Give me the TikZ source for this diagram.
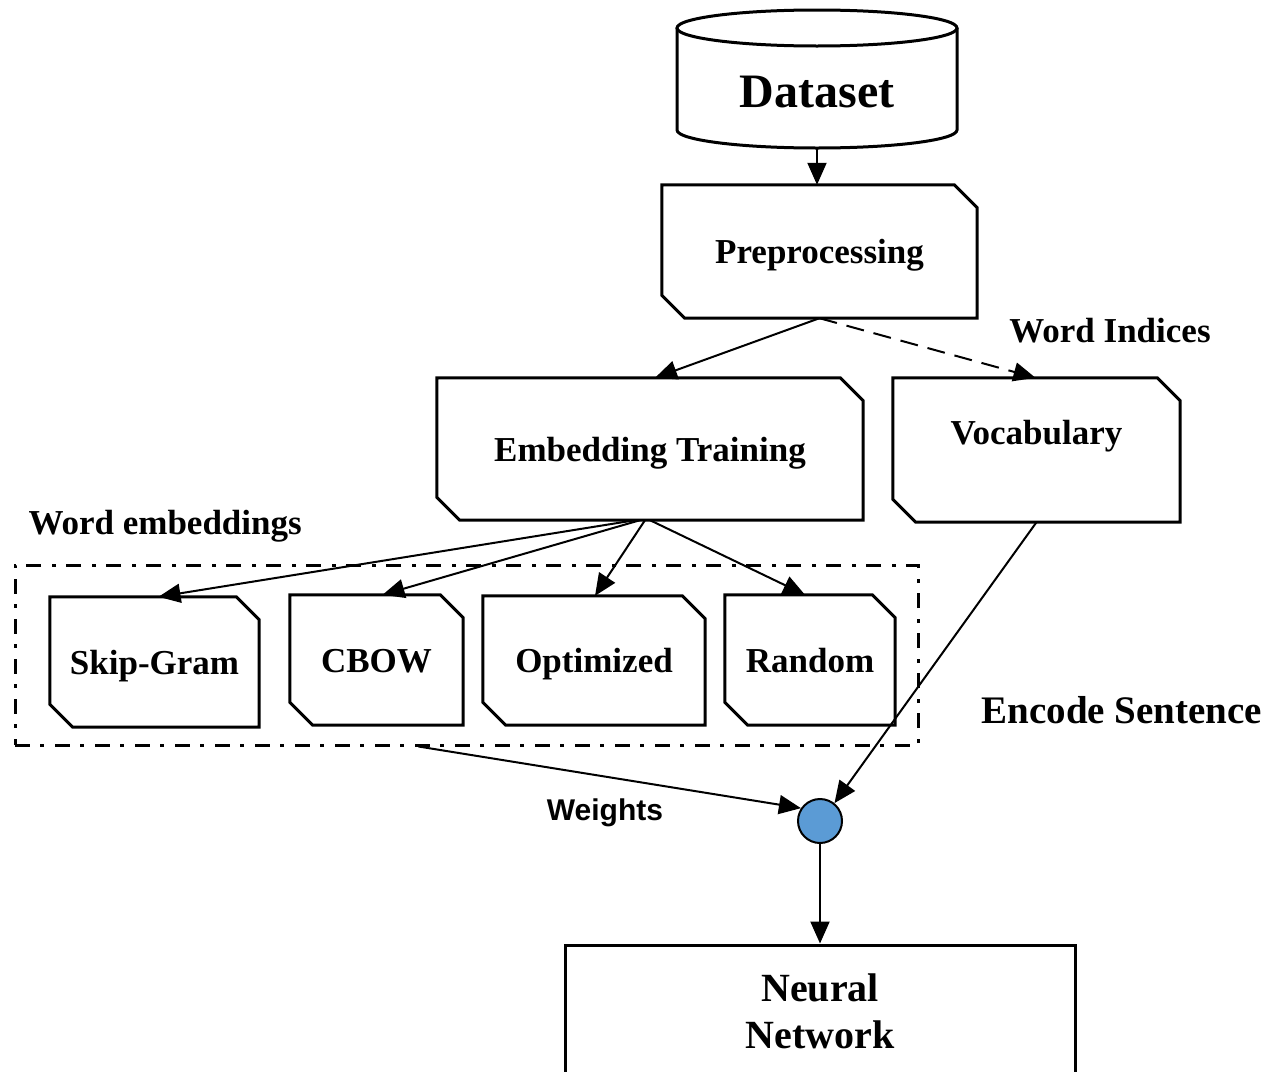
\documentclass[tikz,border=0pt]{standalone}
\usepackage{fontspec}
\setmainfont{Liberation Serif}
\setsansfont{Liberation Sans}
\usetikzlibrary{arrows.meta}
\definecolor{circblue}{HTML}{5B9BD5}

% outline of a box with its top-right and bottom-left corners cut off
\newcommand\cutframe[2]{%
  \draw[outline] (#1.north west) -- ([xshift=-#2]#1.north east)
    -- ([yshift=-#2]#1.north east) -- (#1.south east)
    -- ([xshift=#2]#1.south west) -- ([yshift=#2]#1.south west) -- cycle;}

\begin{document}
\begin{tikzpicture}[x=1pt,y=-1pt,
  boxtext/.style={font=\bfseries\fontsize{35}{40}\selectfont, text height=24pt, text depth=0pt},
  cutbox/.style={rectangle, draw=none, inner sep=0pt, boxtext},
  outline/.style={line width=3pt, line join=miter},
  link/.style={line width=2pt, -{Triangle[length=22pt,width=19pt]}},
  dashlink/.style={link, dash pattern=on 18pt off 10pt},
]
\useasboundingbox (0,0) rectangle (1268,1071);
\fill[white] (0,0) rectangle (1268,1071);
\clip (0,0) rectangle (1268,1071);

% database cylinder
\node[rectangle, draw=none, minimum width=280pt, minimum height=138pt, inner sep=0pt] (ds) at (817,79) {};
\draw[outline] (677,28) -- (677,130) arc[start angle=180, end angle=0, x radius=140, y radius=18] -- (957,28);
\draw[outline] (817,28) ellipse [x radius=140, y radius=18];
\node[font=\bfseries\fontsize{48}{50}\selectfont] (dst) at (817,92) {Dataset};

% processing boxes
\node[cutbox, minimum width=315pt, minimum height=133pt] (pre) at (819.5,251.5) {Preprocessing};
\node[cutbox, minimum width=426pt, minimum height=142pt] (emb) at (650,449) {Embedding Training};
\node[cutbox, minimum width=287pt, minimum height=144pt] (voc) at (1036.5,450) {};
\node[boxtext] (voct) at ([yshift=18pt]voc.center) {Vocabulary};

% embedding variants
\node[draw, dash pattern=on 15pt off 10pt on 4pt off 11pt, line width=3pt,
      minimum width=903pt, minimum height=180pt] (grp) at (466.5,655) {};
\node[cutbox, minimum width=209pt, minimum height=130pt] (sg) at (154.5,662) {Skip-Gram};
\node[cutbox, minimum width=173pt, minimum height=130pt] (cb) at (376.5,660) {CBOW};
\node[cutbox, minimum width=222pt, minimum height=129pt] (op) at (594,660.5) {Optimized};
\node[cutbox, minimum width=170pt, minimum height=130pt] (rd) at (810,660) {Random};

\foreach \n in {pre,emb,voc,sg,cb,op,rd} {\cutframe{\n}{23pt}}

% combination point and network
\node[circle, draw, line width=2pt, fill=circblue, minimum size=44pt, inner sep=0pt] (circ) at (820,821) {};
\node[draw, line width=3pt, minimum width=510pt, minimum height=132pt, align=center,
      font=\bfseries\fontsize{40}{47}\selectfont] (nn) at (820,1011) {Neural\\Network};

% labels
\node[boxtext, anchor=west] (lwe) at (25,522) {Word embeddings};
\node[boxtext] (lwi) at (1110,330) {Word Indices};
\node[font=\bfseries\fontsize{39}{42}\selectfont, text height=26pt, text depth=0pt] (les) at (1122,710) {Encode Sentence};
\node[font=\sffamily\bfseries\fontsize{30}{36}\selectfont] (lwt) at (605,813) {Weights};

% connectors
\draw[link] (ds.south) -- (ds.south |- pre.north);
\draw[link] (pre.south) -- ([xshift=5pt]emb.north);
\draw[dashlink] (pre.south) -- ([xshift=-1pt]voc.north);
\draw[link] ([xshift=-15pt]emb.south) -- ([xshift=4pt]sg.north);
\draw[link] ([xshift=-10pt]emb.south) -- ([xshift=6pt]cb.north);
\draw[link] ([xshift=-5pt]emb.south) -- ([xshift=1pt]op.north);
\draw[link] (emb.south) -- ([xshift=-5pt]rd.north);
\draw[link] ([xshift=-48pt]grp.south) -- (circ.146);
\draw[link] (voc.south) -- (circ.51);
\draw[link] (circ.south) -- (circ.south |- nn.north);
\end{tikzpicture}
\end{document}
